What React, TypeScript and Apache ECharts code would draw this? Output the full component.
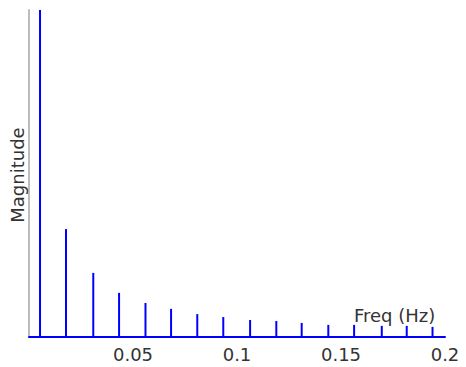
import React, { useEffect, useRef } from "react";
import * as echarts from "echarts";

const freqs = [0.0053, 0.0178, 0.0309, 0.0433, 0.056, 0.0683, 0.0809, 0.0934, 0.1063, 0.1189, 0.1311, 0.1439, 0.1563, 0.1696, 0.1816, 0.194];
const magnitudes = [1, 0.33, 0.196, 0.135, 0.104, 0.086, 0.07, 0.061, 0.052, 0.049, 0.043, 0.037, 0.037, 0.034, 0.034, 0.031];
const xTicks = [0.05, 0.1, 0.15, 0.2];
const xTitle = "Freq (Hz)";
const yTitle = "Magnitude";

export default function App() {
  const ref = useRef<HTMLDivElement>(null);
  useEffect(() => {
    if (!ref.current) return;
    const chart = echarts.init(ref.current, null, { renderer: "svg" });
    const font = "DejaVu Sans";
    chart.setOption({
      animation: false,
      backgroundColor: "#ffffff",
      grid: { left: 29, right: 21, top: 10, bottom: 30, containLabel: false },
      xAxis: {
        type: "value",
        min: 0,
        max: 0.2,
        interval: 0.05,
        axisLine: { show: true, onZero: false, lineStyle: { color: "#0000ff", width: 2 } },
        axisTick: { show: false },
        splitLine: { show: false },
        axisLabel: {
          show: true,
          showMinLabel: false,
          margin: 8,
          color: "#333333",
          fontFamily: font,
          fontSize: 18,
          formatter: (v: number) => {
            const r = parseFloat(v.toFixed(2));
            return xTicks.indexOf(r) >= 0 ? String(r) : "";
          },
        },
      },
      yAxis: {
        type: "value",
        min: 0,
        max: 1,
        axisLine: { show: true, onZero: false, lineStyle: { color: "#bdbdbd", width: 2 } },
        axisTick: { show: false },
        axisLabel: { show: false },
        splitLine: { show: false },
      },
      series: [
        {
          type: "bar",
          barWidth: 2,
          itemStyle: { color: "#0000ff" },
          data: freqs.map((f, i) => [f, magnitudes[i]]),
          z: 3,
        },
      ],
      graphic: [
        {
          type: "text",
          left: 354,
          top: 306,
          style: { text: xTitle, fill: "#333333", font: `18px "${font}"` },
          z: 10,
        },
        {
          type: "text",
          x: 17,
          y: 175,
          rotation: Math.PI / 2,
          style: {
            text: yTitle,
            fill: "#333333",
            font: `18px "${font}"`,
            align: "center",
            verticalAlign: "middle",
          },
          z: 10,
        },
      ],
    });
    return () => chart.dispose();
  }, []);
  return (
    <div
      ref={ref}
      style={{ position: "fixed", left: 0, top: 0, width: 466, height: 367 }}
    />
  );
}
